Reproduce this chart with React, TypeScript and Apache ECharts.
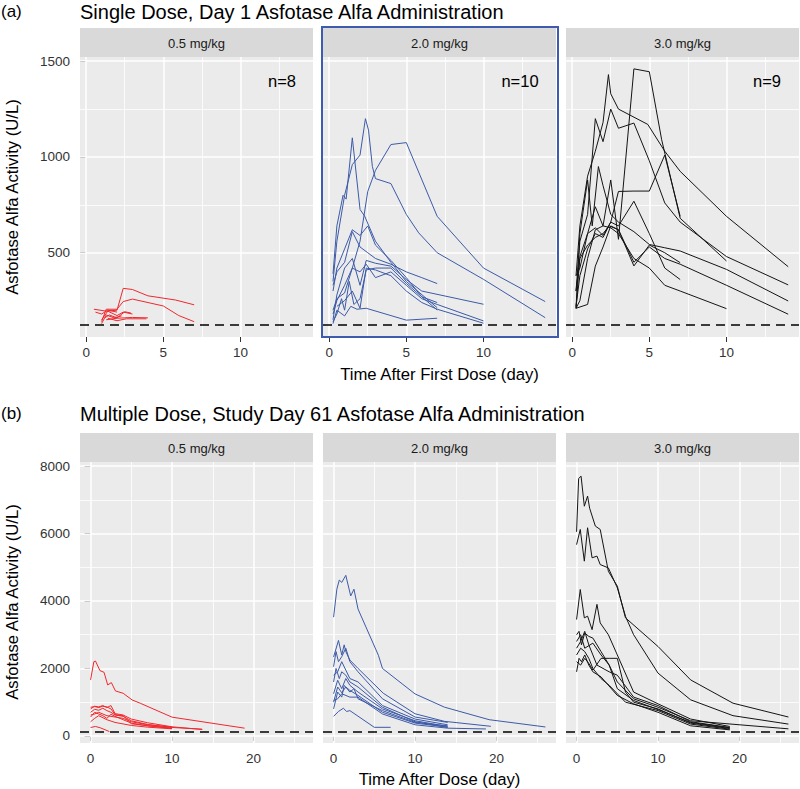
import React, { useEffect, useRef } from 'react';
import * as echarts from 'echarts';

// ---- Data: each subject is a list of [time (day), activity (U/L)] ----
// (a) Single dose, Day 1
const sd05: number[][][] = [
  [[0.5, 205], [1.3, 195], [2.0, 200], [2.4, 314], [3.0, 308], [4.0, 275], [5.8, 253], [7.0, 228]],
  [[1.0, 140], [1.3, 205], [2.0, 205], [2.4, 245], [3.0, 258], [5.0, 222], [6.0, 172], [7.0, 140]],
  [[1.0, 150], [1.4, 195], [2.0, 172], [2.4, 190], [3.0, 180]],
  [[1.2, 160], [1.5, 175], [2.0, 160], [2.5, 192], [2.9, 185]],
  [[1.3, 150], [2.0, 158], [3.0, 162], [4.0, 160]],
  [[1.4, 158], [2.0, 145], [2.6, 155], [3.9, 155]],
  [[0.6, 190], [1.0, 180], [1.4, 200], [2.0, 190]],
  [[1.0, 130], [1.3, 175], [1.8, 160], [2.3, 170]],
];
const sd20: number[][][] = [
  [[0.25, 350], [0.5, 560], [1.0, 800], [1.5, 960], [2.0, 1010], [2.35, 1200], [2.55, 1140], [2.8, 950], [3.0, 887], [4.0, 861], [5.0, 700], [5.8, 604], [7.0, 500], [10.0, 361], [14.0, 161]],
  [[0.25, 180], [0.5, 250], [1.0, 330], [1.5, 420], [2.0, 560], [2.5, 820], [3.0, 930], [4.0, 1065], [5.0, 1075], [7.0, 690], [10.0, 420], [14.0, 245]],
  [[0.25, 390], [0.5, 640], [0.9, 800], [1.1, 780], [1.5, 1100], [2.0, 726], [2.3, 691], [3.0, 560], [4.0, 450], [5.0, 350], [7.0, 213]],
  [[0.25, 300], [0.5, 420], [1.0, 520], [1.5, 620], [2.0, 590], [2.5, 640], [3.0, 540], [4.0, 460], [5.0, 370], [6.0, 270], [7.0, 201]],
  [[0.25, 330], [0.5, 400], [1.0, 450], [1.5, 610], [2.0, 530], [2.5, 500], [3.0, 470], [4.0, 440], [5.0, 400], [6.0, 370], [7.0, 339]],
  [[0.25, 150], [0.5, 280], [1.0, 420], [1.5, 470], [2.0, 330], [2.4, 460], [3.0, 445], [4.0, 430], [5.0, 360], [6.0, 300], [10.0, 231]],
  [[0.25, 200], [0.5, 260], [1.0, 290], [1.5, 420], [2.0, 400], [2.4, 440], [3.0, 370], [4.0, 400], [5.0, 330], [6.0, 260], [7.0, 230], [10.0, 144]],
  [[0.5, 220], [1.0, 250], [1.5, 300], [2.0, 210], [2.4, 420], [3.0, 410], [4.0, 380], [5.0, 300], [6.0, 240], [7.0, 205], [10.0, 132]],
  [[0.25, 130], [0.5, 200], [1.0, 170], [1.4, 220], [1.8, 205], [2.4, 210], [5.0, 148], [7.0, 158]],
  [[0.25, 140], [0.5, 180], [0.8, 260], [1.0, 200], [1.3, 350], [1.6, 230], [2.0, 260], [2.4, 410], [3.0, 420], [4.0, 420], [5.0, 340], [6.0, 270], [7.0, 240]],
];
const sd30: number[][][] = [
  [[0.25, 210], [0.5, 480], [1.0, 600], [1.5, 740], [2.0, 640], [2.5, 880], [3.0, 570], [4.0, 1460], [5.0, 1445], [5.8, 1090], [7.0, 680], [10.0, 457]],
  [[0.25, 380], [0.5, 640], [1.0, 900], [1.5, 1030], [2.0, 1180], [2.35, 1430], [2.5, 1330], [3.0, 1250], [4.9, 1170], [6.0, 1030], [7.0, 925], [10.0, 690], [14.0, 427]],
  [[0.25, 300], [0.5, 560], [1.0, 700], [1.5, 1200], [2.0, 1080], [2.5, 1250], [3.0, 1150], [4.0, 1177], [5.0, 980], [6.0, 760], [7.0, 660], [10.0, 480], [14.0, 332]],
  [[0.25, 210], [0.5, 600], [1.0, 880], [1.3, 640], [1.7, 950], [2.0, 850], [2.5, 700], [3.0, 660], [4.0, 610], [5.0, 543], [6.0, 526], [7.0, 509], [10.0, 413], [14.0, 248]],
  [[0.25, 300], [0.5, 470], [1.0, 540], [1.5, 580], [2.0, 600], [2.4, 640], [3.0, 620], [4.0, 431], [5.0, 540], [6.0, 500], [7.0, 448]],
  [[0.25, 210], [0.5, 250], [1.0, 470], [1.5, 620], [2.0, 640], [2.5, 630], [3.0, 600], [4.0, 470], [5.0, 420], [6.0, 330], [7.0, 300], [10.0, 208]],
  [[0.25, 220], [0.5, 380], [1.0, 520], [1.5, 600], [2.0, 580], [2.5, 660], [3.0, 820], [4.0, 822], [5.0, 822], [6.0, 1010], [7.0, 690]],
  [[0.25, 210], [1.0, 230], [1.5, 430], [2.0, 530], [2.5, 640], [3.0, 620], [4.0, 450], [5.0, 530], [6.0, 470], [7.0, 440], [10.0, 330], [14.0, 179]],
  [[0.25, 380], [0.5, 420], [1.0, 600], [1.5, 630], [2.0, 590], [2.5, 660], [3.0, 640], [4.0, 769], [5.0, 600], [6.0, 420], [7.0, 360]],
];
// (b) Multiple dose, Study Day 61
const md05: number[][][] = [
  [[0, 1660], [0.4, 2200], [0.6, 2220], [1.15, 1935], [1.65, 1886], [2.1, 1511], [2.55, 1580], [3.05, 1333], [4.0, 1264], [5.1, 1066], [6.1, 968], [10.0, 556], [18.9, 230]],
  [[0, 800], [0.5, 880], [1.0, 860], [1.5, 900], [2.0, 840], [2.5, 900], [3.0, 660], [4.0, 620], [5.0, 500], [7.0, 390], [10.0, 270], [13.7, 190]],
  [[0, 700], [0.5, 790], [1.0, 760], [1.5, 820], [2.0, 750], [2.5, 700], [3.0, 620], [4.0, 580], [5.0, 450], [7.0, 340], [10.0, 250], [13.7, 200]],
  [[0, 560], [0.5, 700], [1.0, 650], [1.5, 600], [2.0, 520], [2.5, 640], [3.0, 580], [5.0, 380], [7.0, 300], [10.0, 230]],
  [[0, 620], [0.5, 650], [1.0, 700], [2.0, 600], [3.0, 560], [4.0, 520], [5.0, 420], [7.0, 330], [10.0, 260]],
  [[0, 420], [0.5, 520], [1.0, 600], [2.0, 480], [3.0, 400], [5.0, 310], [7.0, 260], [10.0, 210]],
  [[0, 250], [0.6, 280], [1.2, 240], [2.3, 130]],
  [[0, 850], [0.5, 870], [1.0, 840], [1.5, 880], [2.0, 860], [2.5, 800], [3.0, 630], [4.0, 600], [5.0, 360], [7.0, 300], [10.0, 220]],
];
const md20: number[][][] = [
  [[0, 3520], [0.4, 4350], [0.7, 4620], [1.0, 4550], [1.5, 4760], [2.1, 4150], [2.5, 4350], [3.0, 3760], [5.5, 2390], [6.0, 2000], [10.0, 1245], [13.6, 853], [19.1, 481], [26.0, 265]],
  [[0, 2340], [0.6, 2830], [1.0, 2400], [1.3, 2700], [1.5, 2500], [2.0, 2250], [3.0, 2000], [6.1, 1265], [10.0, 657], [13.6, 432], [19.3, 285]],
  [[0, 2050], [0.3, 2500], [0.6, 2200], [1.0, 2350], [1.5, 2600], [2.0, 2200], [3.0, 1900], [6.0, 1100], [10.0, 560], [14.0, 400]],
  [[0, 1800], [0.5, 1900], [1.0, 2200], [1.5, 1950], [2.0, 1700], [3.0, 1600], [6.0, 900], [10.0, 500], [14.0, 330]],
  [[0, 1250], [0.5, 1650], [1.0, 1400], [1.5, 1700], [2.0, 1500], [3.0, 1300], [6.0, 800], [10.0, 450], [14.0, 280]],
  [[0, 1600], [0.3, 2000], [0.7, 1700], [1.0, 1900], [1.5, 1800], [2.0, 1600], [3.0, 1450], [6.0, 850], [10.0, 420], [14.0, 250]],
  [[0, 800], [0.5, 1300], [1.0, 1150], [1.3, 1500], [2.0, 1300], [2.5, 1400], [3.0, 1100], [6.0, 750], [10.0, 400], [14.0, 300]],
  [[0, 1050], [0.5, 1100], [1.0, 1250], [2.0, 1150], [3.0, 1150], [6.0, 650], [10.0, 330], [14.0, 230], [18.7, 206]],
  [[0, 580], [0.6, 725], [1.2, 820], [1.6, 725], [2.0, 750], [5.0, 255], [7.0, 255]],
  [[0, 1000], [0.5, 1450], [1.0, 1280], [1.5, 1450], [2.0, 1350], [3.0, 1200], [6.0, 700], [10.0, 380], [14.0, 260]],
];
const md30: number[][][] = [
  [[0, 6050], [0.25, 7630], [0.55, 7700], [0.95, 6810], [1.35, 7110], [1.6, 6750], [2.3, 6220], [2.9, 6120], [3.9, 4880], [5.0, 4440], [6.0, 3500], [10.0, 2650], [14.0, 1660], [19.2, 970], [26.0, 560]],
  [[0, 5670], [0.45, 6120], [0.95, 5180], [1.35, 6170], [1.9, 5280], [2.5, 5330], [2.9, 5080], [3.9, 4980], [5.0, 4390], [6.0, 3545], [7.0, 3000], [10.0, 1860], [14.0, 1070], [19.2, 600], [26.0, 350]],
  [[0, 3450], [0.45, 4340], [0.95, 3500], [1.35, 3550], [1.9, 3150], [2.5, 3900], [2.9, 3350], [3.9, 3000], [5.0, 2400], [7.0, 1300], [10.0, 950], [14.0, 500], [18.8, 280]],
  [[0, 3000], [0.3, 3100], [0.6, 2700], [1.0, 3050], [1.5, 2950], [2.0, 2900], [3.0, 2500], [4.0, 2100], [5.0, 1600], [7.0, 1100], [10.0, 850], [14.0, 450], [26.0, 210]],
  [[0, 2600], [0.5, 2800], [1.0, 3100], [1.5, 2700], [2.0, 2400], [2.5, 2100], [4.0, 1900], [5.0, 1800], [7.0, 1150], [10.0, 900], [14.0, 420], [18.8, 250]],
  [[0, 2400], [0.5, 2600], [1.0, 2500], [1.5, 2300], [2.0, 2000], [3.0, 1700], [4.0, 1500], [6.0, 1000], [10.0, 750], [14.0, 350], [18.8, 200]],
  [[0, 1900], [0.3, 2300], [0.6, 2200], [1.0, 2400], [1.5, 2100], [2.0, 1900], [3.0, 1750], [5.0, 1200], [7.0, 950], [10.0, 700], [14.0, 300], [18.8, 180]],
  [[0, 2200], [0.5, 2100], [1.0, 2300], [1.5, 2150], [2.0, 1950], [3.0, 2300], [4.0, 2300], [5.0, 2300], [6.0, 1300], [7.0, 1000], [10.0, 800], [14.0, 380], [18.8, 220]],
  [[0, 2800], [0.5, 3000], [1.0, 2600], [2.0, 2750], [3.0, 2400], [4.0, 2100], [5.0, 1400], [7.0, 1050], [10.0, 780], [14.0, 400], [18.8, 240]],
];

const doseLabels = ['0.5 mg/kg', '2.0 mg/kg', '3.0 mg/kg'];
const nLabels = ['n=8', 'n=10', 'n=9'];
const doseColors = ['#F0282D', '#3C5AA8', '#141414'];
const topXTicks = [0, 5, 10];
const topXMinor = [2.5, 7.5, 12.5];
const topYTicks = [500, 1000, 1500];
const topYMinor = [750, 1250];
const botXTicks = [0, 10, 20];
const botXMinor = [5, 15, 25];
const botYTicks = [0, 2000, 4000, 6000, 8000];
const botYMinor = [1000, 3000, 5000, 7000];
const LLOQ = 125;

const FONT = '"Liberation Sans", Arial, Helvetica, sans-serif';
const LEFTS = [80, 323, 566];
const PW = 233;

export default function App() {
  const ref = useRef<HTMLDivElement>(null);
  useEffect(() => {
    if (!ref.current) return;
    const chart = echarts.init(ref.current, null, { renderer: 'svg' });
    const rows = [
      { stripTop: 28, top: 57, height: 280, xMin: -0.4, xMax: 14.7, yMin: 60, yMax: 1522, xT: topXTicks, xM: topXMinor, yT: topYTicks, yM: topYMinor, data: [sd05, sd20, sd30] },
      { stripTop: 433, top: 462, height: 281, xMin: -1.3, xMax: 27.3, yMin: -210, yMax: 8120, xT: botXTicks, xM: botXMinor, yT: botYTicks, yM: botYMinor, data: [md05, md20, md30] },
    ];
    const grid: any[] = [];
    const xAxis: any[] = [];
    const yAxis: any[] = [];
    const series: any[] = [];
    const graphic: any[] = [];
    const white = (w: number) => ({ color: '#FFFFFF', width: w, type: 'solid' });
    rows.forEach((r, ri) => {
      for (let c = 0; c < 3; c++) {
        const gi = ri * 3 + c;
        grid.push({ left: LEFTS[c], top: r.top, width: PW, height: r.height, show: true, backgroundColor: '#EBEBEB', borderWidth: 0, containLabel: false, z: 0 });
        xAxis.push({
          type: 'value', gridIndex: gi, min: r.xMin, max: r.xMax,
          axisLine: { show: false },
          axisTick: { show: true, length: 5, lineStyle: { color: '#333', width: 1 }, customValues: r.xT },
          axisLabel: { show: true, color: '#333', fontSize: 13.5, fontFamily: FONT, margin: 8, customValues: r.xT, formatter: (v: number) => String(v) },
          splitLine: { show: false },
        });
        yAxis.push({
          type: 'value', gridIndex: gi, min: r.yMin, max: r.yMax,
          axisLine: { show: false },
          axisTick: { show: c === 0, length: 6, lineStyle: { color: '#333', width: 1 }, customValues: r.yT },
          axisLabel: { show: c === 0, color: '#333', fontSize: 13.5, fontFamily: FONT, margin: 10, customValues: r.yT, formatter: (v: number) => String(v) },
          splitLine: { show: false },
        });
        // grid lines (below data)
        series.push({
          type: 'line', xAxisIndex: gi, yAxisIndex: gi, data: [], z: 1, silent: true,
          markLine: {
            z: 1, silent: true, symbol: ['none', 'none'], label: { show: false }, animation: false,
            emphasis: { disabled: true },
            data: [
              ...r.xM.map((v) => ({ xAxis: v, lineStyle: white(0.8) })),
              ...r.yM.map((v) => ({ yAxis: v, lineStyle: white(0.8) })),
              ...r.xT.map((v) => ({ xAxis: v, lineStyle: white(1.5) })),
              ...r.yT.map((v) => ({ yAxis: v, lineStyle: white(1.5) })),
            ],
          },
        });
        // subjects
        r.data[c].forEach((subj) => {
          series.push({
            type: 'line', xAxisIndex: gi, yAxisIndex: gi, data: subj, z: 3, silent: true,
            symbol: 'none', showSymbol: false,
            lineStyle: { color: doseColors[c], width: 1 },
          });
        });
        // LLOQ dashed line
        series.push({
          type: 'line', xAxisIndex: gi, yAxisIndex: gi, data: [], z: 4, silent: true,
          markLine: {
            z: 6, silent: true, symbol: ['none', 'none'], label: { show: false }, animation: false,
            emphasis: { disabled: true },
            data: [{ yAxis: LLOQ, lineStyle: { color: '#000', width: 1.6, type: [9, 6] } }],
          },
        });
        // strip
        graphic.push({ type: 'rect', shape: { x: LEFTS[c], y: r.stripTop, width: PW, height: r.top - r.stripTop }, style: { fill: '#D9D9D9' }, silent: true });
        graphic.push({ type: 'text', x: LEFTS[c] + PW / 2, y: (r.stripTop + r.top) / 2 + 1, style: { text: doseLabels[c], fill: '#1A1A1A', font: `13px ${FONT}`, textAlign: 'center', textVerticalAlign: 'middle' }, silent: true });
        if (ri === 0) {
          const nx = [282, 520, 767][c];
          graphic.push({ type: 'text', x: nx, y: 81, z: 50, style: { text: nLabels[c], fill: '#000', font: `16.5px ${FONT}`, textAlign: 'center', textVerticalAlign: 'middle' }, silent: true });
        }
      }
    });
    // titles
    graphic.push({ type: 'text', x: 1, y: 11, style: { text: '(a)', fill: '#000', font: `17px ${FONT}`, textAlign: 'left', textVerticalAlign: 'middle' } });
    graphic.push({ type: 'text', x: 80, y: 12, style: { text: 'Single Dose, Day 1 Asfotase Alfa Administration', fill: '#000', font: `20px ${FONT}`, textAlign: 'left', textVerticalAlign: 'middle' } });
    graphic.push({ type: 'text', x: 1, y: 413, style: { text: '(b)', fill: '#000', font: `17px ${FONT}`, textAlign: 'left', textVerticalAlign: 'middle' } });
    graphic.push({ type: 'text', x: 80, y: 414, style: { text: 'Multiple Dose, Study Day 61 Asfotase Alfa Administration', fill: '#000', font: `20px ${FONT}`, textAlign: 'left', textVerticalAlign: 'middle' } });
    // axis titles
    graphic.push({ type: 'text', x: 12, y: 197, rotation: Math.PI / 2, style: { text: 'Asfotase Alfa Activity (U/L)', fill: '#000', font: `16.7px ${FONT}`, textAlign: 'center', textVerticalAlign: 'middle' } });
    graphic.push({ type: 'text', x: 12, y: 602, rotation: Math.PI / 2, style: { text: 'Asfotase Alfa Activity (U/L)', fill: '#000', font: `16.7px ${FONT}`, textAlign: 'center', textVerticalAlign: 'middle' } });
    graphic.push({ type: 'text', x: 439.5, y: 374, style: { text: 'Time After First Dose (day)', fill: '#000', font: `16.7px ${FONT}`, textAlign: 'center', textVerticalAlign: 'middle' } });
    graphic.push({ type: 'text', x: 439.5, y: 779, style: { text: 'Time After Dose (day)', fill: '#000', font: `16.7px ${FONT}`, textAlign: 'center', textVerticalAlign: 'middle' } });
    // highlight box around 2.0 mg/kg single-dose panel
    graphic.push({ type: 'rect', shape: { x: 322, y: 27, width: 236, height: 310 }, style: { fill: 'none', stroke: '#3F5BAE', lineWidth: 2 }, z: 100, silent: true });

    chart.setOption({
      animation: false,
      backgroundColor: '#FFFFFF',
      grid, xAxis, yAxis, series, graphic,
    });
    return () => chart.dispose();
  }, []);
  return <div ref={ref} style={{ position: 'absolute', left: 0, top: 0, width: 800, height: 789 }} />;
}
